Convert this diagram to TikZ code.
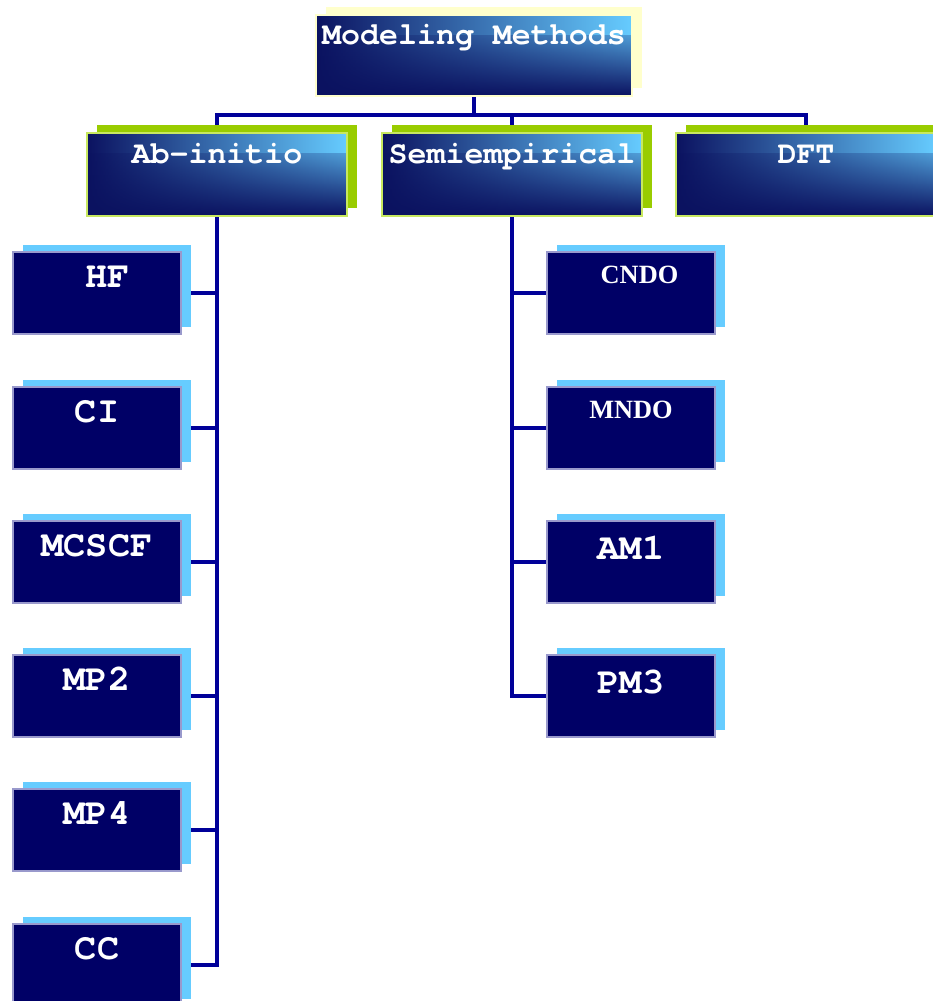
\documentclass[tikz,border=0pt]{standalone}
\usepackage{fontspec}
\setmonofont{texgyrecursor}[Extension=.otf, UprightFont=*-regular, BoldFont=*-bold]
\newfontfamily\timesfont{Liberation Serif}
\usetikzlibrary{shadows,fadings,backgrounds}

\definecolor{navybox}{HTML}{000066}
\definecolor{deepnavy}{HTML}{0B1260}
\definecolor{skyblue}{HTML}{66CCFF}
\definecolor{limegreen}{HTML}{99CC00}
\definecolor{palegreen}{HTML}{C8E860}
\definecolor{paleyellow}{HTML}{FFFFCC}
\definecolor{linkblue}{HTML}{000099}
\definecolor{lavender}{HTML}{9999CC}

\tikzfading[name=fadebottom, top color=transparent!100, bottom color=transparent!0]

\tikzset{
    gradbox/.style={rectangle, inner sep=0pt, line width=0.8pt, left color=deepnavy, right color=skyblue, text=white,
        font=\ttfamily\bfseries\fontsize{18}{20}\selectfont,
        path picture={\fill[deepnavy, path fading=fadebottom] (path picture bounding box.south west) rectangle ([yshift=-0.4cm]path picture bounding box.north east);}},
    methodbox/.style={gradbox, draw=paleyellow, minimum width=6.32cm, text height=0.58cm, text depth=1.04cm,
        general shadow={fill=paleyellow, shadow xshift=0.2cm, shadow yshift=0.16cm}},
    familybox/.style={gradbox, draw=palegreen, minimum width=5.2cm, text height=0.60cm, text depth=1.06cm,
        general shadow={fill=limegreen, shadow xshift=0.2cm, shadow yshift=0.16cm}},
    childbox/.style={rectangle, inner sep=0pt, fill=navybox, draw=lavender, line width=0.6pt, text=white,
        minimum width=3.36cm, text height=0.70cm, text depth=0.94cm,
        font=\ttfamily\bfseries\fontsize{21}{24}\selectfont,
        general shadow={fill=skyblue, shadow xshift=0.2cm, shadow yshift=0.14cm}},
    smallchild/.style={childbox, text height=0.62cm, text depth=1.02cm, font=\timesfont\bfseries\fontsize{15}{17}\selectfont},
    link/.style={draw=linkblue, line width=2.8pt}
}

\begin{document}
\begin{tikzpicture}
    \useasboundingbox (0,0) rectangle (18.66,-20.02);
    \clip (0,0) rectangle (18.66,-20.02);

    % Top of the tree
    \node[methodbox] (methods) at (9.48,-1.11) {Modeling Methods};

    % Families of methods
    \node[familybox] (abinitio) at (4.34,-3.49) {Ab-initio};
    \node[familybox] (semi) at (10.24,-3.49) {Semiempirical};
    \node[familybox] (dft) at (16.12,-3.49) {DFT};

    % Ab-initio methods
    \node[childbox] (hf) at (1.94,-5.86) {\hspace*{0.42cm}HF};
    \node[childbox] (ci) at (1.94,-8.56) {CI};
    \node[childbox] (mcscf) at (1.94,-11.24) {MCSCF};
    \node[childbox] (mp2) at (1.94,-13.92) {MP2};
    \node[childbox] (mp4) at (1.94,-16.60) {MP4};
    \node[childbox] (cc) at (1.94,-19.30) {CC};

    % Semiempirical methods
    \node[smallchild] (cndo) at (12.62,-5.86) {\hspace*{0.34cm}CNDO};
    \node[smallchild] (mndo) at (12.62,-8.56) {MNDO};
    \node[childbox, text height=0.76cm, text depth=0.88cm] (am1) at (12.62,-11.24) {AM1};
    \node[childbox, text height=0.76cm, text depth=0.88cm] (pm3) at (12.62,-13.92) {PM3};

    % Draw the connectors behind the boxes
    \coordinate (bus) at (0,-2.30);
    \begin{scope}[on background layer]
        \draw[link] (methods.south) -- (methods.south |- bus);
        \draw[link] (abinitio.north) |- (dft.north |- bus) -- (dft.north);
        \draw[link] (semi.north) -- (semi.north |- bus);

        \draw[link] (abinitio.south) |- (cc.east);
        \draw[link] (abinitio.south |- hf.east) -- (hf.east);
        \draw[link] (abinitio.south |- ci.east) -- (ci.east);
        \draw[link] (abinitio.south |- mcscf.east) -- (mcscf.east);
        \draw[link] (abinitio.south |- mp2.east) -- (mp2.east);
        \draw[link] (abinitio.south |- mp4.east) -- (mp4.east);

        \draw[link] (semi.south) |- (pm3.west);
        \draw[link] (semi.south |- cndo.west) -- (cndo.west);
        \draw[link] (semi.south |- mndo.west) -- (mndo.west);
        \draw[link] (semi.south |- am1.west) -- (am1.west);
    \end{scope}
\end{tikzpicture}
\end{document}
